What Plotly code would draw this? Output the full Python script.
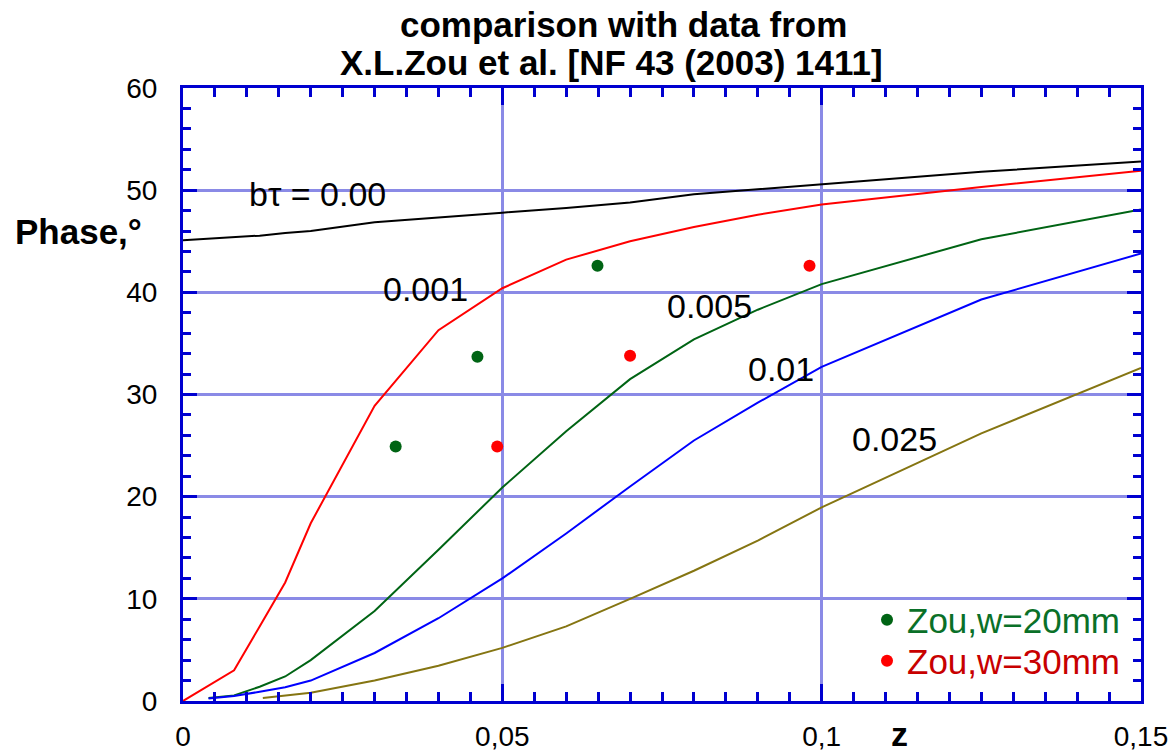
import plotly.graph_objects as go

# ---- data ----
z_bt000 = [0, 0.004, 0.008, 0.012, 0.016, 0.02, 0.03, 0.04, 0.05, 0.06, 0.07, 0.08, 0.09, 0.1, 0.125, 0.15]
ph_bt000 = [45.1, 45.25, 45.4, 45.55, 45.8, 46.0, 46.85, 47.35, 47.8, 48.25, 48.8, 49.6, 50.1, 50.6, 51.8, 52.8]

z_bt001 = [0, 0.008, 0.012, 0.016, 0.02, 0.03, 0.04, 0.05, 0.06, 0.07, 0.08, 0.09, 0.1, 0.125, 0.15]
ph_bt001 = [0, 3.0, 7.3, 11.6, 17.4, 28.9, 36.3, 40.4, 43.2, 45.0, 46.4, 47.6, 48.6, 50.3, 51.9]

z_bt005 = [0.004, 0.008, 0.012, 0.016, 0.02, 0.03, 0.04, 0.05, 0.06, 0.07, 0.08, 0.09, 0.1, 0.125, 0.15]
ph_bt005 = [0.3, 0.55, 1.4, 2.4, 4.0, 8.8, 14.8, 20.9, 26.4, 31.5, 35.4, 38.3, 40.8, 45.2, 48.1]

z_bt01 = [0.004, 0.008, 0.012, 0.016, 0.02, 0.03, 0.04, 0.05, 0.06, 0.07, 0.08, 0.09, 0.1, 0.125, 0.15]
ph_bt01 = [0.25, 0.5, 0.9, 1.35, 2.0, 4.7, 8.1, 12.0, 16.4, 21.0, 25.5, 29.2, 32.7, 39.3, 43.8]

z_bt025 = [0.0125, 0.02, 0.03, 0.04, 0.05, 0.06, 0.07, 0.08, 0.09, 0.1, 0.125, 0.15]
ph_bt025 = [0.3, 0.8, 2.0, 3.45, 5.2, 7.3, 10.0, 12.75, 15.7, 18.95, 26.2, 32.6]

zou20_z = [0.0333, 0.0461, 0.0649]
zou20_ph = [24.9, 33.7, 42.6]
zou30_z = [0.0492, 0.0700, 0.0981]
zou30_ph = [24.9, 33.8, 42.6]

x_tickvals = [0, 0.05, 0.1, 0.15]
x_ticktext = ["0", "0,05", "0,1", "0,15"]
y_tickvals = [0, 10, 20, 30, 40, 50, 60]

curve_labels = ["b\u03c4 = 0.00", "0.001", "0.005", "0.01", "0.025"]
label_pos_z = [0.021, 0.0379, 0.0825, 0.0936, 0.1114]
label_pos_ph = [49.6, 40.3, 38.65, 32.5, 25.6]

FONT = "Liberation Sans, Arial, sans-serif"
AXIS_BLUE = "#0000d0"

fig = go.Figure()
line_specs = [
    (z_bt000, ph_bt000, "#000000"),
    (z_bt001, ph_bt001, "#ff0000"),
    (z_bt005, ph_bt005, "#006414"),
    (z_bt01, ph_bt01, "#0000ff"),
    (z_bt025, ph_bt025, "#857512"),
]
for zx, ph, col in line_specs:
    fig.add_trace(go.Scatter(x=zx, y=ph, mode="lines", line=dict(color=col, width=2),
                             showlegend=False, hoverinfo="skip"))

fig.add_trace(go.Scatter(x=zou20_z, y=zou20_ph, mode="markers",
                         marker=dict(color="#006414", size=12), legend="legend",
                         name="<span style='color:#0a7028'>Zou,w=20mm</span>"))
fig.add_trace(go.Scatter(x=zou30_z, y=zou30_ph, mode="markers",
                         marker=dict(color="#ff0000", size=12), legend="legend2",
                         name="<span style='color:#c80000'>Zou,w=30mm</span>"))

for txt, zx, ph in zip(curve_labels, label_pos_z, label_pos_ph):
    fig.add_annotation(x=zx, y=ph, text=txt, showarrow=False,
                       font=dict(family=FONT, size=34, color="#000000"))

# titles and axis labels
fig.add_annotation(xref="paper", yref="paper", x=0.4603, y=1.1028, text="<b>comparison with data from</b>",
                   showarrow=False, font=dict(family=FONT, size=35, color="#000"), yanchor="middle")
fig.add_annotation(xref="paper", yref="paper", x=0.4478, y=1.0424, text="<b>X.L.Zou et al. [NF 43 (2003) 1411]</b>",
                   showarrow=False, font=dict(family=FONT, size=35, color="#000"), yanchor="middle")
fig.add_annotation(xref="paper", yref="paper", x=-0.1775, y=0.7667, text="<b>Phase,\u00b0</b>",
                   showarrow=False, font=dict(family=FONT, size=35, color="#000"),
                   xanchor="left", yanchor="middle")
fig.add_annotation(xref="paper", yref="paper", x=0.748, y=-0.0875, text="<b>z</b>",
                   showarrow=False, font=dict(family=FONT, size=34, color="#000"),
                   xanchor="center", yanchor="bottom")

axis_common = dict(
    showline=True, linecolor=AXIS_BLUE, linewidth=3, mirror="allticks",
    ticks="inside", tickcolor=AXIS_BLUE, tickwidth=3,
    showgrid=True, gridcolor="#8a8ae6", gridwidth=3,
    zeroline=False, automargin=False,
    tickfont=dict(family=FONT, size=28, color="#000"),
)

fig.update_xaxes(range=[0, 0.15], tickvals=x_tickvals, ticktext=x_ticktext, ticklen=17,
                 ticklabelstandoff=8,
                 minor=dict(ticks="inside", dtick=0.005, tick0=0, ticklen=9, tickwidth=3,
                            tickcolor=AXIS_BLUE, showgrid=False),
                 **axis_common)
fig.update_yaxes(range=[0, 60], tickvals=y_tickvals, ticklen=14,
                 ticklabelstandoff=17,
                 minor=dict(ticks="inside", dtick=2, tick0=0, ticklen=8, tickwidth=3,
                            tickcolor=AXIS_BLUE, showgrid=False),
                 **axis_common)

legend_common = dict(xanchor="left", yanchor="middle", bgcolor="rgba(0,0,0,0)",
                     font=dict(family=FONT, size=35), itemwidth=30)
fig.update_layout(
    width=1171, height=755,
    margin=dict(l=183, r=30, t=88, b=54, autoexpand=False),
    plot_bgcolor="#ffffff", paper_bgcolor="#ffffff",
    showlegend=True,
    legend=dict(x=0.714, y=0.1321, **legend_common),
    legend2=dict(x=0.714, y=0.0653, **legend_common),
    font=dict(family=FONT),
)

fig.write_html("out.html", config={"displayModeBar": False},
               post_script="document.body.style.margin='0';")
